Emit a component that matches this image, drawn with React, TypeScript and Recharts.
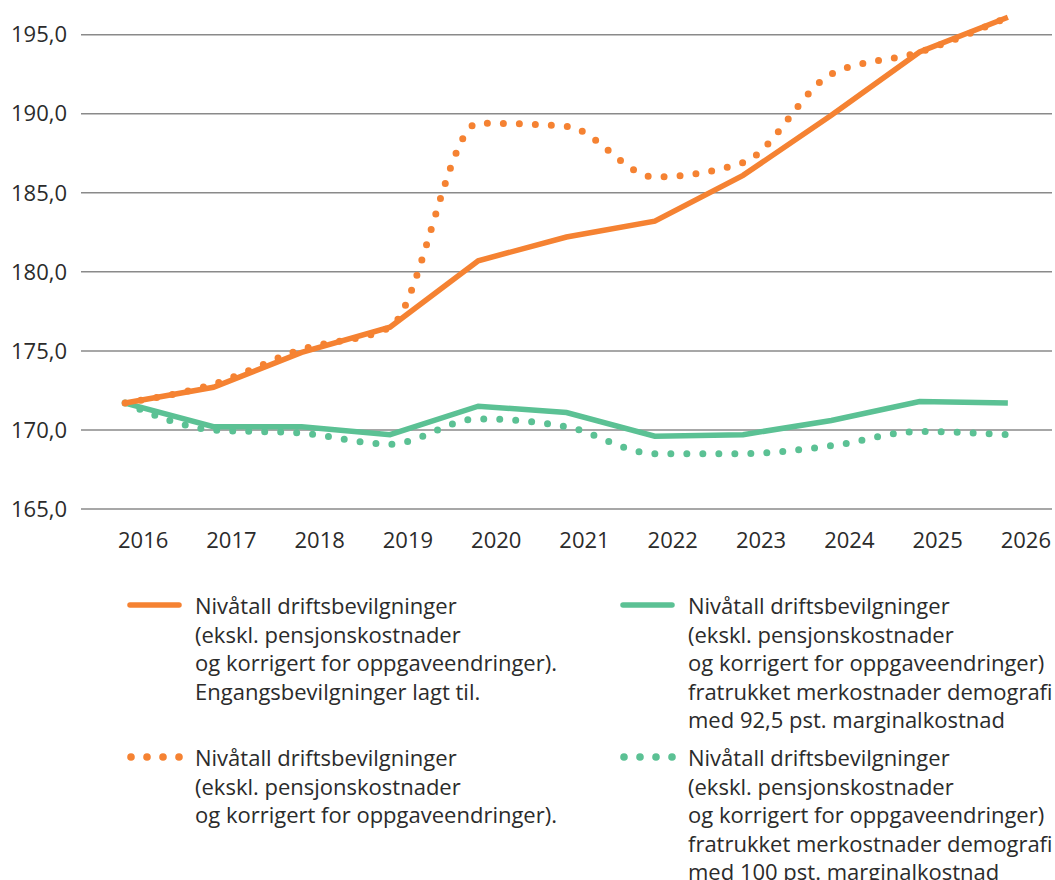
import React from 'react';
import { LineChart, Line, XAxis, YAxis, CartesianGrid } from 'recharts';

// ---- data ----
const years = [2016, 2017, 2018, 2019, 2020, 2021, 2022, 2023, 2024, 2025, 2026];
const engangsLagtTil = [171.7, 172.7, 174.9, 176.5, 180.7, 182.2, 183.2, 186.1, 189.9, 193.9, 196.1];
const driftsbevilgninger = [171.7, 172.9, 175.1, 176.5, 189.4, 189.2, 186.0, 186.9, 192.5, 193.9, 196.1];
const demografi925 = [171.7, 170.2, 170.2, 169.7, 171.5, 171.1, 169.6, 169.7, 170.6, 171.8, 171.7];
const demografi100 = [171.7, 170.0, 169.8, 169.1, 170.7, 170.2, 168.5, 168.5, 169.0, 169.9, 169.7];
const yTicks = [165, 170, 175, 180, 185, 190, 195];

const legendTexts = [
  'Nivåtall driftsbevilgninger\n(ekskl. pensjonskostnader\nog korrigert for oppgaveendringer).\nEngangsbevilgninger lagt til.',
  'Nivåtall driftsbevilgninger\n(ekskl. pensjonskostnader\nog korrigert for oppgaveendringer)\nfratrukket merkostnader demografi\nmed 92,5 pst. marginalkostnad',
  'Nivåtall driftsbevilgninger\n(ekskl. pensjonskostnader\nog korrigert for oppgaveendringer).',
  'Nivåtall driftsbevilgninger\n(ekskl. pensjonskostnader\nog korrigert for oppgaveendringer)\nfratrukket merkostnader demografi\nmed 100 pst. marginalkostnad',
];

const ORANGE = '#f58232';
const GREEN = '#5bc194';
const FONT = '"Open Sans", sans-serif';

const data = years.map((year, i) => ({
  year,
  engangs: engangsLagtTil[i],
  drift: driftsbevilgninger[i],
  demo925: demografi925[i],
  demo100: demografi100[i],
}));

const fmt = (v: number) => v.toFixed(1).replace('.', ',');

const Swatch = ({ color, dotted }: { color: string; dotted?: boolean }) => (
  <svg width={60} height={12} style={{ position: 'absolute', left: -68, top: 8 }}>
    {dotted ? (
      [4, 20, 36, 52].map((cx) => <circle key={cx} cx={cx} cy={6} r={3.8} fill={color} />)
    ) : (
      <line x1={3} y1={6} x2={52} y2={6} stroke={color} strokeWidth={5.5} strokeLinecap="round" />
    )}
  </svg>
);

const LegendItem = ({ x, y, text, color, dotted }: any) => (
  <div
    style={{
      position: 'absolute',
      left: x,
      top: y,
      fontFamily: FONT,
      fontSize: 22,
      lineHeight: '28.5px',
      color: '#2b2b2b',
      whiteSpace: 'pre',
    }}
  >
    <Swatch color={color} dotted={dotted} />
    {text}
  </div>
);

export default function App() {
  return (
    <div style={{ position: 'absolute', left: 0, top: 0, width: 1055, height: 880, background: '#fff', overflow: 'hidden' }}>
      <LineChart width={1055} height={560} data={data} margin={{ top: 3, right: 3, left: 0, bottom: 11 }}>
        <CartesianGrid vertical={false} horizontalValues={yTicks} stroke="#8a8a8a" strokeWidth={1.5} />
        <XAxis
          dataKey="year"
          type="number"
          domain={[2015.5, 2026.5]}
          ticks={years}
          axisLine={false}
          tickLine={false}
          tickSize={0}
          tickMargin={23}
          height={40}
          tick={{ fontSize: 22, fill: '#2b2b2b', fontFamily: FONT, dx: 18 }}
        />
        <YAxis
          domain={[165, 197]}
          ticks={yTicks}
          width={81}
          axisLine={false}
          tickLine={false}
          tickSize={0}
          tickMargin={14}
          tickFormatter={fmt}
          tick={{ fontSize: 22, fill: '#2b2b2b', fontFamily: FONT }}
        />
        <Line
          dataKey="demo100"
          type="monotone"
          stroke={GREEN}
          strokeWidth={7}
          strokeDasharray="0 16"
          strokeLinecap="round"
          dot={false}
          isAnimationActive={false}
        />
        <Line
          dataKey="demo925"
          type="linear"
          stroke={GREEN}
          strokeWidth={5.5}
          dot={false}
          isAnimationActive={false}
        />
        <Line
          dataKey="drift"
          type="monotone"
          stroke={ORANGE}
          strokeWidth={7}
          strokeDasharray="0 16"
          strokeLinecap="round"
          dot={false}
          isAnimationActive={false}
        />
        <Line
          dataKey="engangs"
          type="linear"
          stroke={ORANGE}
          strokeWidth={5.5}
          dot={false}
          isAnimationActive={false}
        />
      </LineChart>
      <LegendItem x={195} y={591} text={legendTexts[0]} color={ORANGE} />
      <LegendItem x={688} y={591} text={legendTexts[1]} color={GREEN} />
      <LegendItem x={195} y={743} text={legendTexts[2]} color={ORANGE} dotted />
      <LegendItem x={688} y={743} text={legendTexts[3]} color={GREEN} dotted />
    </div>
  );
}
